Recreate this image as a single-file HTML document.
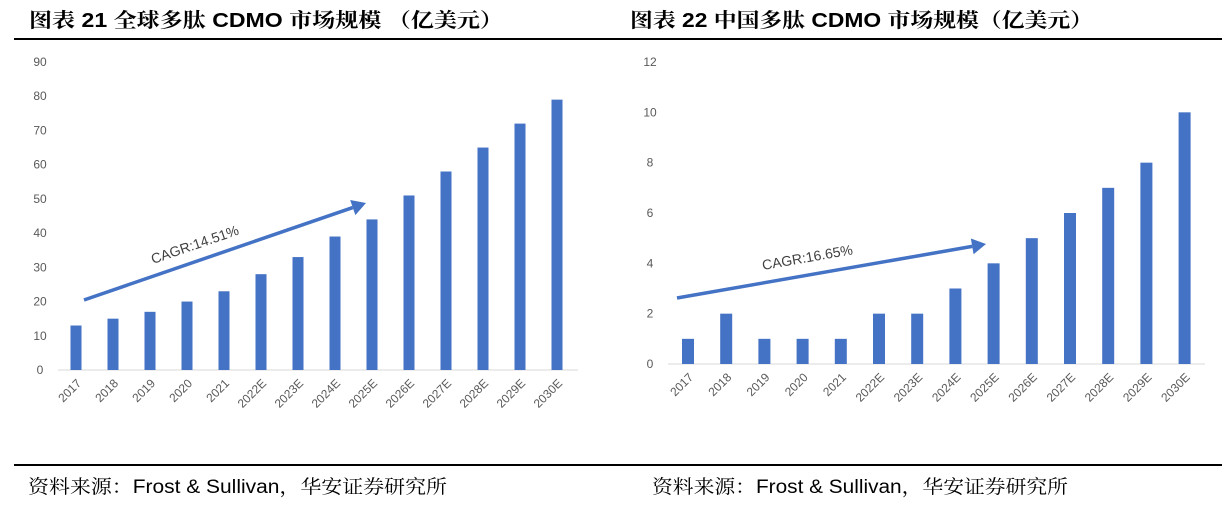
<!DOCTYPE html>
<html><head><meta charset="utf-8">
<style>
body{margin:0;background:#fff;width:1222px;height:506px;overflow:hidden}
svg{display:block}
.t{font-family:"Liberation Sans","Noto Sans CJK SC",sans-serif}
.h{font-family:"Liberation Sans","Noto Serif CJK SC",serif}
</style></head>
<body>
<svg id="s" width="1222" height="506" viewBox="0 0 1222 506" class="t">
<text class="h" x="29" y="27" font-size="20" font-weight="bold" fill="#000" textLength="474" lengthAdjust="spacingAndGlyphs">图表 21 全球多肽 CDMO 市场规模 （亿美元）</text>
<text class="h" x="630" y="27" font-size="20" font-weight="bold" fill="#000" textLength="463" lengthAdjust="spacingAndGlyphs">图表 22 中国多肽 CDMO 市场规模（亿美元）</text>
<rect x="14" y="38" width="1208" height="2" fill="#000"/>
<rect x="14" y="464" width="1208" height="2" fill="#000"/>
<text class="h" x="28" y="493" font-size="19" fill="#000" textLength="419" lengthAdjust="spacingAndGlyphs">资料来源：Frost &amp; Sullivan，华安证券研究所</text>
<text class="h" x="652" y="493" font-size="19" fill="#000" textLength="416" lengthAdjust="spacingAndGlyphs">资料来源：Frost &amp; Sullivan，华安证券研究所</text>
<g id="g1"></g><g id="g2"></g>
</svg>
<script>
const categories=["2017","2018","2019","2020","2021","2022E","2023E","2024E","2025E","2026E","2027E","2028E","2029E","2030E"];
const globalValues=[13,15,17,20,23,28,33,39,44,51,58,65,72,79];
const chinaValues=[1,2,1,1,1,2,2,3,4,5,6,7,8,10];
const globalTicks=[0,10,20,30,40,50,60,70,80,90];
const chinaTicks=[0,2,4,6,8,10,12];
const NS="http://www.w3.org/2000/svg";
function mk(p,tag,at){const e=document.createElementNS(NS,tag);for(const k in at)e.setAttribute(k,at[k]);p.appendChild(e);return e;}
function chart(gid,vals,ticks,cfg){
 const g=document.getElementById(gid);
 const max=ticks[ticks.length-1];
 const y=v=>cfg.y0-(v/max)*(cfg.y0-cfg.yTop);
 const x=i=>cfg.x0+i*cfg.step;
 const ax=mk(g,"line",{x1:cfg.ax1,x2:cfg.ax2,y1:cfg.y0,y2:cfg.y0,stroke:"#d9d9d9","stroke-width":1});
 
 
 ticks.forEach(t=>{
  const tx=mk(g,"text",{x:cfg.lx,y:y(t)+4,"font-size":12,fill:"#595959","text-anchor":"middle"});
  tx.textContent=t;
  
  
 });
 vals.forEach((v,i)=>{
  const r=mk(g,"rect",{x:x(i)-cfg.bw/2,y:y(v),width:cfg.bw,height:cfg.y0-y(v),fill:"#4472c4"});
  
  
  const cx=x(i)+6,cy=cfg.y0+14;
  const tx=mk(g,"text",{x:cx,y:cy,"font-size":12,fill:"#595959","text-anchor":"end",transform:`rotate(-45 ${cx} ${cy})`});
  tx.textContent=categories[i];
  
  
 });
 const a=cfg.arrow;
 const ang=Math.atan2(a[3]-a[1],a[2]-a[0]);
 const bx=a[2]-14*Math.cos(ang),by=a[3]-14*Math.sin(ang);
 const ln=mk(g,"line",{x1:a[0],y1:a[1],x2:bx,y2:by,stroke:"#4472c4","stroke-width":3.5});
 
 
 const px=-Math.sin(ang)*8,py=Math.cos(ang)*8;
 const hd=mk(g,"polygon",{points:`${a[2]},${a[3]} ${bx+px},${by+py} ${bx-px},${by-py}`,fill:"#4472c4"});
 
 
 const deg=ang*180/Math.PI;
 const lt=mk(g,"text",{x:cfg.lab[0],y:cfg.lab[1],"font-size":14,fill:"#404040",transform:`rotate(${deg} ${cfg.lab[0]} ${cfg.lab[1]})`});
 lt.textContent=cfg.labText;
 
 
}
chart("g1",globalValues,globalTicks,{x0:76,step:37,bw:11,y0:370,yTop:62,ax1:58,ax2:578,lx:40,arrow:[84,300,366,203],lab:[153,264],labText:"CAGR:14.51%"});
chart("g2",chinaValues,chinaTicks,{x0:688,step:38.2,bw:12,y0:364,yTop:62,ax1:668,ax2:1205,lx:650,arrow:[677,298,986,244],lab:[763,270],labText:"CAGR:16.65%"});
</script>
</body></html>
